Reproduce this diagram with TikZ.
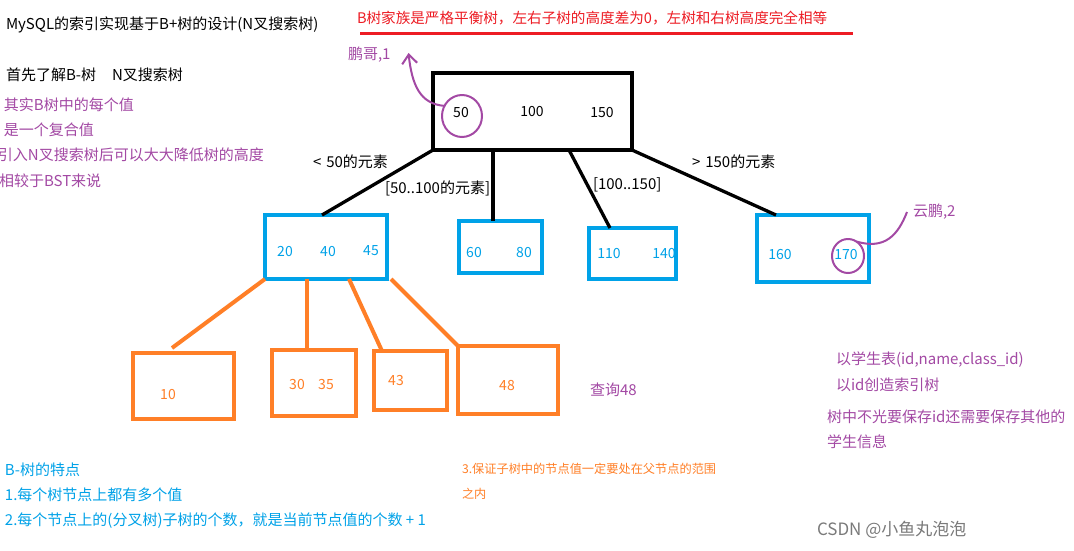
\documentclass[tikz,border=0pt]{standalone}
\usepackage{fontspec}
\setmainfont{Noto Sans CJK SC}
\usepackage{tikz}
\usetikzlibrary{positioning,arrows.meta,shapes.geometric}
\definecolor{penred}{HTML}{ED1C24}
\definecolor{penblue}{HTML}{00A2E8}
\definecolor{penorange}{HTML}{FF7F27}
\definecolor{penpurple}{HTML}{A349A4}
\definecolor{notegray}{HTML}{7A7A7A}

\begin{document}
\begin{tikzpicture}[
    x=1pt, y=-1pt,
    every node/.style={inner sep=0pt, outer sep=0pt},
    txt/.style={anchor=west, font=\fontsize{15}{18}\selectfont},
    note/.style={txt, color=penpurple},
    val/.style={font=\fontsize{14}{17}\selectfont},
    rootbox/.style={draw, line width=3.5pt},
    bluebox/.style={draw=penblue, line width=3.5pt},
    orangebox/.style={draw=penorange, line width=4pt},
    ring/.style={ellipse, draw=penpurple, line width=2pt},
    link/.style={line width=3.3pt},
    olink/.style={line width=4pt, penorange},
    pen/.style={line width=2pt, penpurple}
]
  \path[use as bounding box, fill=white] (0,0) rectangle (1074,550);

  \node[txt] (title) at (6,25) {MySQL的索引实现基于B+树的设计(N叉搜索树)};
  \node[txt, font=\fontsize{14.6}{18}\selectfont, penred] (rule) at (357,18)
       {B树家族是严格平衡树，左右子树的高度差为0，左树和右树高度完全相等};
  \draw[penred, line width=3pt] (360,33) -- (853,33);
  \node[txt] (first) at (6,75) {首先了解B-树\hspace{16pt}N叉搜索树};
  \node[note] (n1) at (4,105) {其实B树中的每个值};
  \node[note] (n2) at (4,130) {是一个复合值};
  \node[note] (n3) at (-2,155) {引入N叉搜索树后可以大大降低树的高度};
  \node[note] (n4) at (-1,181) {相较于BST来说};

  \node[rootbox, minimum width=199pt, minimum height=77pt] (root) at (532.5,111.5) {};
  \node[val] (v50) at (461,113) {50};
  \node[val] (v100) at (532,112) {100};
  \node[val] (v150) at (602,113) {150};

  \node[bluebox, minimum width=122pt, minimum height=64pt] (b1) at (326,247) {};
  \node[bluebox, minimum width=83pt, minimum height=52pt] (b2) at (500.5,247) {};
  \node[bluebox, minimum width=87pt, minimum height=51pt] (b3) at (632.5,253.5) {};
  \node[bluebox, minimum width=112pt, minimum height=67pt] (b4) at (813,248.5) {};
  \foreach \v/\x/\y in {20/285/252, 40/328/252, 45/371/251, 60/474/253, 80/524/253,
                        110/609/254, 140/664/254, 160/780/255, 170/846/255}
    \node[val, penblue] (v\v) at (\x,\y) {\v};

  \node[orangebox, minimum width=101pt, minimum height=66pt] (o1) at (183.5,386) {};
  \node[orangebox, minimum width=84pt, minimum height=66pt] (o2) at (314,383) {};
  \node[orangebox, minimum width=73pt, minimum height=59pt] (o3) at (410.5,380.5) {};
  \node[orangebox, minimum width=100pt, minimum height=68pt] (o4) at (508,380) {};
  \foreach \v/\x/\y in {10/168/394, 30/297/384, 35/326/384, 43/396/380, 48/507/385}
    \node[val, penorange] (v\v) at (\x,\y) {\v};

  \draw[link] (root.south west) -- ([xshift=-4pt]b1.north);
  \draw[link] ([xshift=-39.5pt]root.south) -- ([xshift=-7.5pt]b2.north);
  \draw[link] ([xshift=36.5pt]root.south) -- ([xshift=-22.5pt]b3.north);
  \draw[link] (root.south east) -- ([xshift=-37pt]b4.north);
  \node[txt] (lt) at (313,162) {<\,\,50的元素};
  \node[txt] (mid1) at (385,188) {[50..100的元素]};
  \node[txt] (mid2) at (593,185) {[100..150]};
  \node[txt] (gt) at (692,162) {>\,\,150的元素};

  \draw[olink] (b1.south west) -- ([shift={(-11.5,-5)}]o1.north);
  \draw[olink] ([xshift=-19pt]b1.south) -- ([xshift=-7pt]o2.north);
  \draw[olink] ([xshift=23pt]b1.south) -- ([xshift=-28.5pt]o3.north);
  \draw[olink] ([xshift=4pt]b1.south east) -- (o4.north west);

  \node[ring, minimum width=40pt, minimum height=42pt] (c50) at (462,116) {};
  \node[note] (peng) at (348,55) {鹏哥,1};
  \draw[pen, -{Straight Barb[length=9pt,width=15pt]}] (c50.150)
       .. controls (420,104) and (412,85) .. ([shift={(18,-2)}]peng.east);
  \node[ring, minimum width=32pt, minimum height=34pt] (c170) at (848,256) {};
  \node[note] (yun) at (913,212) {云鹏,2};
  \draw[pen] (c170.60) .. controls (885,250) and (898,235) .. ([xshift=-6pt]yun.west);

  \node[note] (query) at (590,390) {查询48};
  \node[note] (s1) at (836,360) {以学生表(id,name,class\_id)};
  \node[note] (s2) at (836,385) {以id创造索引树};
  \node[note] (s3) at (827,417) {树中不光要保存id还需要保存其他的};
  \node[note] (s4) at (827,442) {学生信息};

  \node[txt, penblue] (f0) at (5,470) {B-树的特点};
  \node[txt, penblue] (f1) at (5,495) {1.每个树节点上都有多个值};
  \node[txt, penblue] (f2) at (5,521) {2.每个节点上的(分叉树)子树的个数，就是当前节点值的个数 + 1};
  \node[txt, penorange, font=\fontsize{12.2}{15}\selectfont] (f3) at (462,469)
       {3.保证子树中的节点值一定要处在父节点的范围};
  \node[txt, penorange, font=\fontsize{12.2}{15}\selectfont] (f4) at (462,494) {之内};

  \node[txt, font=\fontsize{17}{20}\selectfont, notegray] (mark) at (817,530) {CSDN @小鱼丸泡泡};
\end{tikzpicture}
\end{document}
